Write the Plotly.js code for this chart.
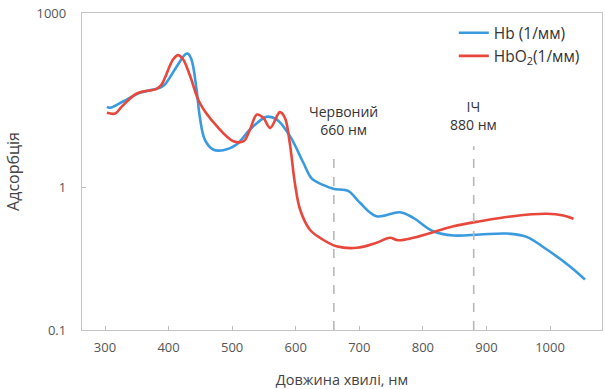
<!DOCTYPE html>
<html>
<head>
<meta charset="utf-8">
<script src="https://cdn.plot.ly/plotly-3.0.1.min.js"></script>
<style>html,body{margin:0;padding:0;background:#fff;}#chart{width:605px;height:389px;}</style>
</head>
<body>
<div id="chart"></div>
<script>
// Hb (1/мм)
const hbWavelength = [303, 308, 329, 355, 386, 394, 413, 426, 430, 436, 444, 449, 457, 470, 486, 507, 528, 554, 570, 591, 612, 625, 643, 659, 683, 701, 727, 764, 785, 816, 848, 890, 932, 963, 995, 1031, 1055];
const hbValues = [24.5, 23.6, 30.6, 42.7, 52, 59.3, 122, 194, 202, 159, 48.7, 16.9, 6.7, 4.54, 4.42, 5.53, 10, 16.5, 14.9, 7.7, 2.69, 1.45, 1.12, 0.96, 0.875, 0.553, 0.326, 0.381, 0.305, 0.18, 0.152, 0.158, 0.164, 0.144, 0.0873, 0.0452, 0.0267];
// HbO2 (1/мм)
const hbo2Wavelength = [303, 316, 326, 350, 381, 389, 407, 415, 423, 434, 449, 476, 502, 518, 528, 539, 549, 560, 575, 583, 591, 599, 607, 622, 638, 664, 696, 727, 748, 761, 785, 816, 848, 890, 942, 995, 1021, 1037];
const hbo2Values = [19.4, 18.8, 24.5, 41.6, 50, 59.3, 159, 189, 159, 82, 28.8, 11.4, 6.3, 6.3, 10, 18.1, 15.9, 10.7, 19.9, 15.9, 5.5, 1.14, 0.42, 0.193, 0.139, 0.0995, 0.0934, 0.114, 0.139, 0.126, 0.139, 0.173, 0.219, 0.267, 0.326, 0.358, 0.335, 0.294];

const seriesNames = ['Hb (1/мм)', 'HbO<sub>2</sub>(1/мм)'];
const xTickVals = [300, 400, 500, 600, 700, 800, 900, 1000];
const yTickVals = [0.00363, 1, 1000];
const yTickText = ['0.1', '1', '1000'];
const markerWavelengths = [660, 880];
const markerLabels = ['Червоний<br>660 нм', 'ІЧ<br>880 нм'];

const font = 'Open Sans, Noto Sans, sans-serif';

const traces = [
  {x: hbWavelength, y: hbValues, name: seriesNames[0], mode: 'lines',
   line: {color: '#3a9ae0', width: 2.6, shape: 'spline', smoothing: 1}},
  {x: hbo2Wavelength, y: hbo2Values, name: seriesNames[1], mode: 'lines',
   line: {color: '#e8473b', width: 2.6, shape: 'spline', smoothing: 1}}
];

const shapes = markerWavelengths.map((w, i) => ({
  type: 'line', xref: 'x', yref: 'paper', x0: w, x1: w,
  y0: 0, y1: i === 0 ? 0.553 : 0.58,
  line: {color: '#b8b8b8', width: 1.6, dash: 'dash'}
}));

const annotations = markerWavelengths.map((w, i) => ({
  x: w + (i === 0 ? 15 : 0), xref: 'x', yref: 'paper',
  y: i === 0 ? 0.595 : 0.612, yanchor: 'bottom', showarrow: false,
  text: markerLabels[i], align: 'center',
  font: {family: font, size: 14, color: '#333'}
}));

const layout = {
  width: 605, height: 389,
  margin: {l: 82, r: 3, t: 13, b: 59},
  paper_bgcolor: '#fff', plot_bgcolor: '#fff',
  showlegend: true,
  legend: {x: 0.715, y: 0.99, xanchor: 'left', yanchor: 'top', bgcolor: 'rgba(0,0,0,0)',
           font: {family: font, size: 15.5, color: '#333'}, tracegroupgap: 0, itemwidth: 30},
  xaxis: {
    range: [263.8, 1081.8], tickvals: xTickVals, ticks: 'inside', ticklen: 4,
    tickcolor: '#bbb', showline: true, mirror: true, linecolor: '#c4c4c4', linewidth: 1.2,
    showgrid: false, zeroline: false, ticklabelstandoff: 5,
    tickfont: {family: font, size: 13, color: '#555'},
    title: {text: 'Довжина хвилі, нм', font: {family: font, size: 14.5, color: '#444'}, standoff: 22}
  },
  yaxis: {
    type: 'log', range: [Math.log10(0.00363), 3], tickvals: yTickVals, ticktext: yTickText,
    ticks: 'inside', ticklen: 4, tickcolor: '#bbb',
    showline: true, mirror: true, linecolor: '#c4c4c4', linewidth: 1.2,
    showgrid: false, zeroline: false, ticklabelstandoff: 12,
    tickfont: {family: font, size: 13, color: '#555'},
    title: {text: 'Адсорбція', font: {family: font, size: 16, color: '#444'}, standoff: 12}
  },
  shapes: shapes,
  annotations: annotations
};

Plotly.newPlot('chart', traces, layout, {displayModeBar: false, staticPlot: true});
</script>
</body>
</html>
